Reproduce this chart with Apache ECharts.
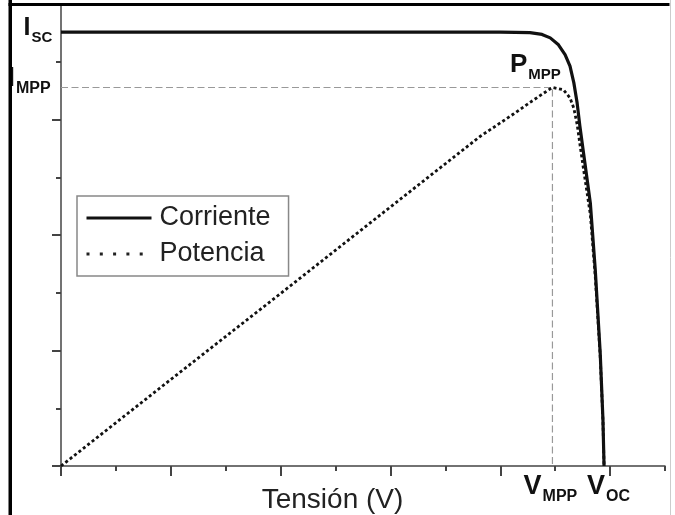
<!DOCTYPE html>
<html><head><meta charset="utf-8">
<script src="https://cdn.jsdelivr.net/npm/echarts@6.0.0/dist/echarts.min.js"></script>
<style>html,body{margin:0;padding:0;background:#fff}#c{width:675px;height:515px}</style>
</head><body><div id="c"></div>
<script>
// ---- data (V in tick units, I/P in tick units) ----
const currV = [0, 4, 8.0, 8.54, 8.76, 8.91, 9.06, 9.18, 9.27, 9.34, 9.40, 9.45, 9.52, 9.64, 9.73, 9.82, 9.87, 9.89];
const currI = [7.52, 7.52, 7.52, 7.51, 7.48, 7.42, 7.30, 7.13, 6.93, 6.64, 6.29, 5.89, 5.40, 4.56, 3.40, 1.96, 0.80, 0];
const powV = [0, 2, 4, 6, 7.63, 8.24, 8.54, 8.85, 8.95, 9.15, 9.27, 9.34, 9.40, 9.45, 9.52, 9.64, 9.73, 9.82, 9.87, 9.89];
const powP = [0, 1.50, 2.99, 4.49, 5.71, 6.10, 6.30, 6.50, 6.56, 6.52, 6.38, 6.20, 5.92, 5.58, 5.12, 4.36, 3.28, 1.90, 0.78, 0];
const Isc = 7.52, Impp = 6.56, Vmpp = 8.95, Voc = 9.89, Pmpp = 6.56;
const xMajorTicks = [0, 2, 4, 6, 8, 10];
const xMinorTicks = [1, 3, 5, 7, 9, 11];
const yMajorTicks = [0, 2, 4, 6];
const yMinorTicks = [1, 3, 5, 7];
const seriesNames = ['Corriente', 'Potencia'];
const xName = 'Tensión (V)';

const F = '"Liberation Sans", Arial, Helvetica, sans-serif';
const pair = (a, b) => a.map((v, i) => [v, b[i]]);

function lab(x, y, main, sub, big, small, pt, off) {
  return {
    value: [x, y],
    label: {
      show: true, position: 'inside', offset: off,
      formatter: '{a|' + main + '}{b|' + sub + '}',
      rich: {
        a: {fontSize: big, fontWeight: 'bold', fontFamily: F, color: '#111'},
        b: {fontSize: small, fontWeight: 'bold', fontFamily: F, color: '#111', padding: [pt, 0, 0, 1]}
      }
    }
  };
}

const axisCol = '#444';
const noSym = {color: 'rgba(0,0,0,0)', borderWidth: 0, opacity: 0};
const chart = echarts.init(document.getElementById('c'), null, {renderer: 'canvas'});
chart.setOption({
  animation: false,
  backgroundColor: '#fff',
  grid: {left: 61, right: 10, top: 4.4, bottom: 49, containLabel: false, outerBoundsMode: 'none'},
  xAxis: [{
    type: 'value', min: 0, max: 11, position: 'bottom',
    name: xName, nameLocation: 'middle', nameGap: 20,
    nameTextStyle: {fontSize: 28, color: '#222', fontFamily: F, padding: [0, 61, 0, 0]},
    axisLine: {show: true, lineStyle: {color: axisCol, width: 1.5}},
    axisTick: {show: true, customValues: xMajorTicks, length: 10, lineStyle: {color: axisCol, width: 2}},
    axisLabel: {show: false}, splitLine: {show: false}
  }, {
    type: 'value', min: 0, max: 11, position: 'bottom',
    axisLine: {show: false},
    axisTick: {show: true, customValues: xMinorTicks, length: 5, lineStyle: {color: axisCol, width: 2}},
    axisLabel: {show: false}, splitLine: {show: false}
  }],
  yAxis: [{
    type: 'value', min: 0, max: 8, position: 'left',
    axisLine: {show: true, lineStyle: {color: axisCol, width: 1.5}},
    axisTick: {show: true, customValues: yMajorTicks, length: 9, lineStyle: {color: axisCol, width: 2}},
    axisLabel: {show: false}, splitLine: {show: false}
  }, {
    type: 'value', min: 0, max: 8, position: 'left',
    axisLine: {show: false},
    axisTick: {show: true, customValues: yMinorTicks, length: 5, lineStyle: {color: axisCol, width: 2}},
    axisLabel: {show: false}, splitLine: {show: false}
  }],
  legend: {
    orient: 'vertical', left: 77, top: 196,
    padding: [8, 18, 8, 8], itemGap: 8, itemWidth: 65, itemHeight: 14,
    borderColor: '#888', borderWidth: 1.5, backgroundColor: '#fff',
    textStyle: {fontSize: 27, color: '#222', fontFamily: F, lineHeight: 28, padding: [0, 0, 0, 3]},
    data: [
      {name: seriesNames[0], itemStyle: noSym, lineStyle: {color: '#111', width: 3, type: 'solid'}},
      {name: seriesNames[1], itemStyle: noSym, lineStyle: {color: '#222', width: 3, type: [3, 10.3]}}
    ]
  },
  series: [
    {
      name: 'guides', type: 'line', silent: true, symbol: 'none',
      data: [[0, Impp], [Vmpp, Impp], [Vmpp, 0]],
      lineStyle: {color: '#999', width: 1.2, type: [7, 3.5]}, z: 1
    },
    {
      name: seriesNames[1], type: 'line', symbol: 'none', silent: true,
      data: pair(powV, powP), color: '#111',
      lineStyle: {color: '#111', width: 2.8, type: [3, 2.6]}, z: 2
    },
    {
      name: seriesNames[0], type: 'line', symbol: 'none', silent: true,
      data: pair(currV, currI), color: '#111',
      lineStyle: {color: '#111', width: 3.2, type: 'solid', join: 'round'}, z: 3
    },
    {
      name: 'labels', type: 'scatter', silent: true, symbolSize: 1,
      itemStyle: {color: 'rgba(0,0,0,0)', opacity: 1}, z: 4,
      data: [
        lab(0, Isc, 'I', 'SC', 25, 15, 19, [-23, -4]),
        lab(0, Impp, 'I', 'MPP', 27, 16, 20, [-32, -9]),
        lab(Vmpp, Pmpp, 'P', 'MPP', 26, 15, 20, [-17, -23]),
        lab(Vmpp, 0, 'V', 'MPP', 27, 16, 20, [-2, 21]),
        lab(Voc, 0, 'V', 'OC', 27, 16, 20, [4.5, 21])
      ]
    }
  ],
  graphic: [
    {type: 'rect', z: 100, shape: {x: 8.5, y: 0, width: 3.5, height: 515}, style: {fill: '#000'}},
    {type: 'rect', z: 100, shape: {x: 8.5, y: 3, width: 661, height: 3}, style: {fill: '#000'}},
    {type: 'line', z: 100, shape: {x1: 670.5, y1: 0, x2: 670.5, y2: 515}, style: {stroke: '#ccc', lineWidth: 1}}
  ]
});
</script></body></html>
